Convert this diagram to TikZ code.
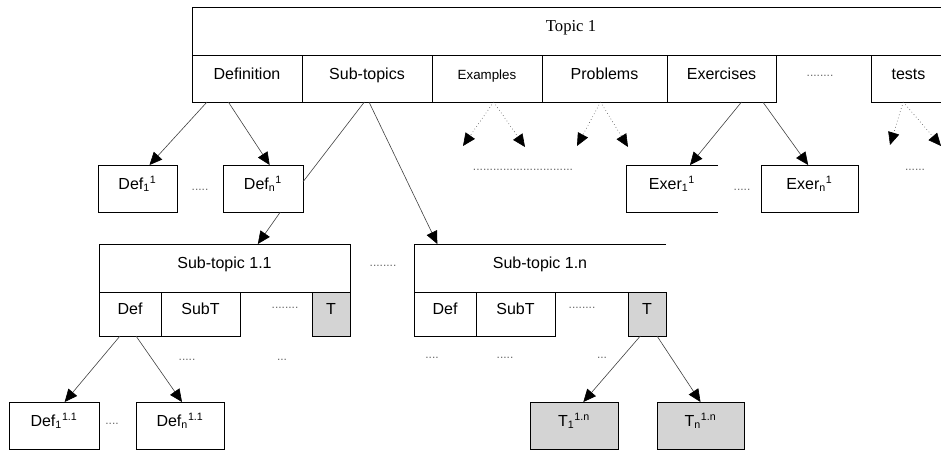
\documentclass[tikz,border=0pt]{standalone}
\usepackage{fontspec}
\setmainfont{Liberation Sans}
\newfontfamily\serifrm{Liberation Serif}
\usetikzlibrary{arrows.meta}

\begin{document}
\begin{tikzpicture}[x=0.75pt,y=-0.75pt,
    cell/.style={draw,line width=0.6pt,inner sep=0pt,outer sep=0pt,minimum height=35.25pt,
        text height=9pt,text depth=8pt,font=\fontsize{12}{14}\selectfont},
    rowcell/.style={cell,minimum height=33pt},
    shade/.style={fill=black!17},
    gap/.style={text=black!60,inner sep=0pt,font=\fontsize{9}{10}\selectfont},
    link/.style={line width=0.45pt,black!75},
    arr/.style={link,-{Triangle[length=9.5pt,width=8.5pt,black]}},
    darr/.style={arr,dotted}]
    \useasboundingbox (0,0) rectangle (941,450);
    \clip (0,0) rectangle (941,450);

    \node[cell,minimum width=568.5pt,minimum height=36pt,font=\serifrm\fontsize{12.5}{14}\selectfont] (topic) at (571,31) {Topic 1};
    \node[cell,minimum width=82.5pt] (definition) at (247,78.5) {Definition};
    \node[cell,minimum width=97.5pt] (subtopics) at (367,78.5) {Sub-topics};
    \node[cell,minimum width=82.5pt,font=\fontsize{10}{12}\selectfont] (examples) at (487,78.5) {Examples};
    \node[cell,minimum width=93.75pt] (problems) at (604.5,78.5) {Problems};
    \node[cell,minimum width=81.75pt] (exercises) at (721.5,78.5) {Exercises};
    \node[gap] (dotsa) at (820,76) {........};
    \node[cell,minimum width=56.25pt] (tests) at (908.5,78.5) {tests};

    \node[cell,minimum width=59.25pt] (defa) at (137.5,188.5) {Def\textsubscript{1}\textsuperscript{1}};
    \node[gap] (dotsb) at (200,190) {.....};
    \node[cell,minimum width=60pt] (defn) at (263,188.5) {Def\textsubscript{n}\textsuperscript{1}};
    \node[gap] (dotsc) at (523,170) {..............................};
    \node[cell,draw=none,minimum width=69pt] (exa) at (672,188.5) {Exer\textsubscript{1}\textsuperscript{1}};
    \draw[line width=0.6pt] (exa.north east) -- (exa.north west) -- (exa.south west) -- (exa.south east);
    \node[gap] (dotsd) at (742,190) {.....};
    \node[cell,minimum width=72.75pt] (exn) at (809.5,188.5) {Exer\textsubscript{n}\textsuperscript{1}};
    \node[gap] (dotse) at (915,170) {......};

    \node[cell,minimum width=188.25pt,minimum height=36pt] (subta) at (224.5,268) {Sub-topic 1.1};
    \node[rowcell,minimum width=46.5pt] (subtadef) at (130,314) {Def};
    \node[rowcell,minimum width=59.25pt] (subtasub) at (200.5,314) {SubT};
    \node[gap] (dotsf) at (285,308) {........};
    \node[rowcell,shade,minimum width=28.5pt] (subtat) at (331,314) {T};
    \node[gap] (dotsg) at (383,266) {........};

    \node[cell,draw=none,minimum width=189pt,minimum height=36pt] (subtn) at (540,268) {Sub-topic 1.n};
    \draw[line width=0.6pt] (subtn.north east) -- (subtn.north west) -- (subtn.south west) -- (subtn.south east);
    \node[rowcell,minimum width=46.5pt] (subtndef) at (445,314) {Def};
    \node[rowcell,minimum width=59.25pt] (subtnsub) at (515.5,314) {SubT};
    \node[gap] (dotsh) at (582,308) {........};
    \node[rowcell,shade,minimum width=28.5pt] (subtnt) at (647,314) {T};

    \node[gap] (dotsi) at (187,360) {.....};
    \node[gap] (dotsj) at (282,360) {...};
    \node[gap] (dotsk) at (432,358) {....};
    \node[gap] (dotsl) at (505,358) {.....};
    \node[gap] (dotsm) at (602,358) {...};

    \node[cell,minimum width=67.5pt] (defaa) at (54,425.5) {Def\textsubscript{1}\textsuperscript{1.1}};
    \node[gap] (dotsn) at (112,424) {....};
    \node[cell,minimum width=66pt] (defna) at (180,425.5) {Def\textsubscript{n}\textsuperscript{1.1}};
    \node[cell,shade,minimum width=66pt] (tna) at (574,425.5) {T\textsubscript{1}\textsuperscript{1.n}};
    \node[cell,shade,minimum width=65.25pt] (tnn) at (700.5,425.5) {T\textsubscript{n}\textsuperscript{1.n}};

    \coordinate (exfa) at (463,146);
    \coordinate (exfb) at (525,147);
    \coordinate (prfa) at (577,146);
    \coordinate (prfb) at (628,147);
    \coordinate (tsfa) at (890,145);
    \coordinate (tsfb) at (941,146);

    \draw[arr] ([xshift=-30pt]definition.south) -- ([xshift=9pt]defa.north);
    \draw[arr] ([xshift=-14pt]definition.south) -- ([xshift=5pt]defn.north);
    \draw[link] ([xshift=-2pt]subtopics.south) -- ([yshift=5pt]defn.east);
    \draw[arr] ([xshift=1.5pt]subtopics.south) -- ([xshift=-77pt]subtn.north);
    \draw[arr] ([xshift=13pt]defn.south) -- ([xshift=25pt]subta.north);
    \draw[arr] ([xshift=15pt]exercises.south) -- ([xshift=13.5pt]exa.north);
    \draw[arr] ([xshift=31pt]exercises.south) -- ([xshift=-1pt]exn.north);
    \draw[darr] ([xshift=5pt]examples.south) -- (exfa);
    \draw[darr] ([xshift=5pt]examples.south) -- (exfb);
    \draw[darr] ([xshift=-3pt]problems.south) -- (prfa);
    \draw[darr] ([xshift=-3pt]problems.south) -- (prfb);
    \draw[darr] ([xshift=-4pt]tests.south) -- (tsfa);
    \draw[darr] ([xshift=-4pt]tests.south) -- (tsfb);
    \draw[arr] ([xshift=-7.5pt]subtadef.south) -- ([xshift=8pt]defaa.north);
    \draw[arr] ([xshift=4.5pt]subtadef.south) -- ([xshift=1.5pt]defna.north);
    \draw[arr] ([xshift=-5pt]subtnt.south) -- ([xshift=7pt]tna.north);
    \draw[arr] ([xshift=7.5pt]subtnt.south) -- (tnn.north);
\end{tikzpicture}
\end{document}
